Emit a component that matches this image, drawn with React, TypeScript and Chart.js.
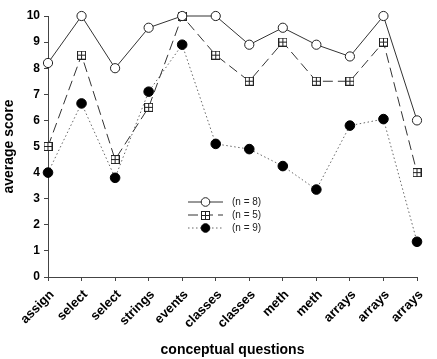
import React, { useEffect, useRef } from "react";
import { Chart, registerables } from "chart.js";

Chart.register(...registerables);

// Question categories along the x axis
const categories = [
  "assign", "select", "select", "strings", "events", "classes",
  "classes", "meth", "meth", "arrays", "arrays", "arrays",
];

// Average scores per group
const scoresN8 = [8.2, 10, 8.0, 9.55, 10, 10, 8.9, 9.55, 8.9, 8.45, 10, 6.0];
const scoresN5 = [5.0, 8.5, 4.5, 6.5, 10, 8.5, 7.5, 9.0, 7.5, 7.5, 9.0, 4.0];
const scoresN9 = [4.0, 6.65, 3.8, 7.1, 8.9, 5.1, 4.9, 4.25, 3.35, 5.8, 6.05, 1.35];

const seriesLabels = ["(n = 8)", "(n = 5)", "(n = 9)"];

const yMin = 0;
const yMax = 10;

const FONT = "Arial, 'Liberation Sans', sans-serif";

// Square marker with a cross inside
function makeCrossSquare(): HTMLCanvasElement {
  const s = 9;
  const c = document.createElement("canvas");
  c.width = s;
  c.height = s;
  const g = c.getContext("2d")!;
  g.fillStyle = "#fff";
  g.fillRect(0, 0, s, s);
  g.strokeStyle = "#222";
  g.lineWidth = 1;
  g.strokeRect(0.5, 0.5, s - 1, s - 1);
  g.beginPath();
  g.moveTo(4.5, 0.5);
  g.lineTo(4.5, s - 0.5);
  g.moveTo(0.5, 4.5);
  g.lineTo(s - 0.5, 4.5);
  g.stroke();
  return c;
}

export default function App() {
  const ref = useRef<HTMLCanvasElement | null>(null);

  useEffect(() => {
    if (!ref.current) return;
    const crossSquare = makeCrossSquare();

    // Legend drawn inside the plot: line sample with marker, then label
    const legendPlugin = {
      id: "innerLegend",
      afterDraw(chart: any) {
        const { ctx, chartArea } = chart;
        const x0 = chartArea.left + 140;
        const x1 = chartArea.left + 175;
        const xm = (x0 + x1) / 2;
        const xt = chartArea.left + 184;
        const rows = [chartArea.top + 186, chartArea.top + 199, chartArea.top + 212];
        ctx.save();
        chart.data.datasets.forEach((ds: any, i: number) => {
          const y = rows[i];
          ctx.strokeStyle = ds.borderColor;
          ctx.lineWidth = ds.borderWidth;
          ctx.setLineDash(ds.borderDash || []);
          ctx.beginPath();
          ctx.moveTo(x0, y);
          ctx.lineTo(x1, y);
          ctx.stroke();
          ctx.setLineDash([]);
          if (ds.pointStyle === "circle") {
            ctx.beginPath();
            ctx.arc(xm, y, 4.3, 0, Math.PI * 2);
            ctx.fillStyle = ds.pointBackgroundColor;
            ctx.fill();
            ctx.strokeStyle = ds.pointBorderColor;
            ctx.lineWidth = 1;
            ctx.stroke();
          } else {
            const img = ds.pointStyle as HTMLCanvasElement;
            ctx.drawImage(img, Math.round(xm - img.width / 2), Math.round(y - img.height / 2));
          }
          ctx.fillStyle = "#222";
          ctx.font = `10px ${FONT}`;
          ctx.textBaseline = "middle";
          ctx.textAlign = "left";
          ctx.fillText(ds.label, xt, y);
        });
        ctx.restore();
      },
    };

    const chart = new Chart(ref.current, {
      type: "line",
      data: {
        labels: categories,
        datasets: [
          {
            label: seriesLabels[0],
            data: scoresN8,
            borderColor: "#333",
            borderWidth: 1,
            pointStyle: "circle",
            pointRadius: 4.6,
            pointBackgroundColor: "#fff",
            pointBorderColor: "#222",
            pointBorderWidth: 1,
            clip: false,
          } as any,
          {
            label: seriesLabels[1],
            data: scoresN5,
            borderColor: "#333",
            borderWidth: 1,
            borderDash: [10, 5],
            pointStyle: crossSquare,
            pointRadius: 4.5,
            clip: false,
          } as any,
          {
            label: seriesLabels[2],
            data: scoresN9,
            borderColor: "#666",
            borderWidth: 1,
            borderDash: [1.5, 2.5],
            pointStyle: "circle",
            pointRadius: 4.8,
            pointBackgroundColor: "#000",
            pointBorderColor: "#000",
            pointBorderWidth: 1,
            clip: false,
          } as any,
        ],
      },
      options: {
        animation: false,
        responsive: true,
        maintainAspectRatio: false,
        layout: { padding: { left: 0, right: 20, top: 16, bottom: 0 } },
        plugins: {
          legend: { display: false },
          tooltip: { enabled: false },
        },
        scales: {
          x: {
            type: "category",
            offset: false,
            afterFit: (scale: any) => {
              scale.height = 82;
            },
            grid: {
              drawOnChartArea: false,
              drawTicks: true,
              tickLength: 4,
              color: "#444",
            },
            border: { display: true, color: "#444", width: 1 },
            ticks: {
              color: "#000",
              font: { family: FONT, size: 13, weight: "bold" },
              minRotation: 45,
              maxRotation: 45,
              autoSkip: false,
              padding: 6,
              labelOffset: 4,
            },
            title: {
              display: true,
              text: "conceptual questions",
              color: "#000",
              font: { family: FONT, size: 14, weight: "bold" },
              padding: { top: 0, bottom: 0 },
            },
          },
          y: {
            min: yMin,
            max: yMax,
            afterFit: (scale: any) => {
              scale.width = 48;
            },
            grid: {
              drawOnChartArea: false,
              drawTicks: true,
              tickLength: 4,
              color: "#444",
            },
            border: { display: true, color: "#444", width: 1 },
            ticks: {
              stepSize: 1,
              color: "#000",
              font: { family: FONT, size: 12, weight: "bold" },
              padding: 4,
            },
            title: {
              display: true,
              text: "average score",
              color: "#000",
              font: { family: FONT, size: 14, weight: "bold" },
              padding: { top: 1, bottom: 0 },
            },
          },
        },
      },
      plugins: [legendPlugin],
    });

    return () => chart.destroy();
  }, []);

  return (
    <div style={{ position: "absolute", left: 0, top: 0, width: 437, height: 359, background: "#fff" }}>
      <canvas ref={ref} />
    </div>
  );
}
